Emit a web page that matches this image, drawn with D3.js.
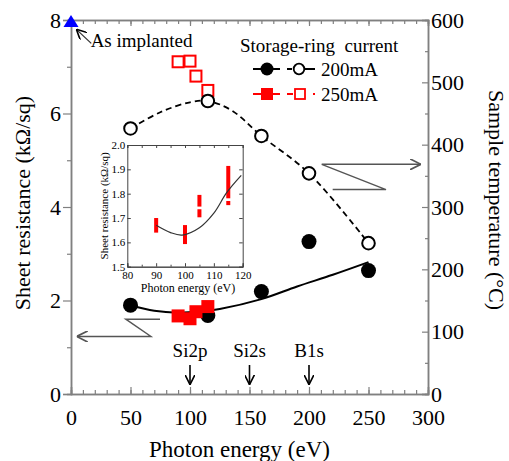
<!DOCTYPE html>
<html>
<head>
<meta charset="utf-8">
<script src="https://cdn.jsdelivr.net/npm/d3@7"></script>
<style>
  body { margin: 0; background: #fff; }
  svg text { font-family: "Times New Roman", Times, "Liberation Serif", "Noto Serif", "DejaVu Serif", serif !important; }
</style>
</head>
<body>
<svg id="chart"></svg>
<script>
// ---- data ----
const energy200 = [50, 115, 160, 200, 250];
const sheetRes200 = [1.90, 1.68, 2.19, 3.26, 2.64];
const temp200 = [426, 470, 414, 354, 242];

const energy250 = [90, 100, 105, 115];
const sheetRes250 = [1.67, 1.61, 1.76, 1.87];
const temp250 = [533, 534, 510, 487];

// hand-drawn guide curves through the points
const resFitX = [50, 70, 90, 110, 125, 160, 190, 220, 250];
const resFitY = [1.90, 1.78, 1.74, 1.77, 1.82, 2.03, 2.30, 2.55, 2.82];
const tempFitX = [50, 75, 100, 115, 135, 160, 200, 250];
const tempFitY = [426, 452, 468, 470, 455, 414, 354, 242];

// inset: red bars (error ranges) and fit
const insetBarX = [90, 100, 105, 105, 115, 115];
const insetBarLo = [1.640, 1.593, 1.703, 1.747, 1.753, 1.781];
const insetBarHi = [1.700, 1.671, 1.736, 1.795, 1.770, 1.914];
const insetFitX = [90, 95, 99, 105, 110, 114.5, 119.5];
const insetFitY = [1.670, 1.640, 1.630, 1.660, 1.720, 1.805, 1.875];

const xTicks = [0, 50, 100, 150, 200, 250, 300];
const leftTicks = [0, 2, 4, 6, 8];
const rightTicks = [0, 100, 200, 300, 400, 500, 600];
const insetXTicks = [80, 90, 100, 110, 120];
const insetYTicks = [1.5, 1.6, 1.7, 1.8, 1.9, 2.0];

const edgeNames = ["Si2p", "Si2s", "B1s"];
const edgeEnergy = [100, 150, 200];

const asImplanted = {x: 0, y: 8};

// ---- layout ----
const WIDTH = 509, HEIGHT = 461;
const PLOT = {left: 71, right: 428, top: 20, bottom: 394};
const INSET = {left: 127.3, right: 242.7, top: 145, bottom: 266.7};
const AXIS_GREY = "#808080";
const SERIF = "'Times New Roman', Times, 'Liberation Serif', 'Noto Serif', 'DejaVu Serif', serif";

const svg = d3.select("#chart").attr("width", WIDTH).attr("height", HEIGHT)
	.attr("font-family", SERIF);
svg.append("rect").attr("width", WIDTH).attr("height", HEIGHT).attr("fill", "#fff");

const x = d3.scaleLinear().domain([0, 300]).range([PLOT.left, PLOT.right]);
const yL = d3.scaleLinear().domain([0, 8]).range([PLOT.bottom, PLOT.top]);
const yR = d3.scaleLinear().domain([0, 600]).range([PLOT.bottom, PLOT.top]);

// arrow heads
const defs = svg.append("defs");
function arrowMarker(id, color, size) {
	defs.append("marker")
		.attr("id", id)
		.attr("viewBox", "0 0 10 10")
		.attr("refX", 10).attr("refY", 5)
		.attr("markerWidth", size).attr("markerHeight", size)
		.attr("markerUnits", "userSpaceOnUse")
		.attr("orient", "auto")
		.append("path")
		.attr("d", "M0,0 L10,5 L0,10")
		.attr("fill", "none")
		.attr("stroke", color)
		.attr("stroke-width", 1.6);
}
arrowMarker("arrGrey", "#555", 11);
arrowMarker("arrBlack", "#000", 10);

// ---- axes ----
function styleAxis(g) {
	g.attr("font-family", SERIF);
	g.select(".domain").attr("stroke", AXIS_GREY).attr("stroke-width", 1.5);
	g.selectAll(".tick line").attr("stroke", AXIS_GREY).attr("stroke-width", 1.2);
	g.selectAll(".tick text").attr("font-size", 22).attr("fill", "#000");
}
const minorX = d3.range(0, 301, 10);

// bottom
svg.append("g").attr("transform", `translate(0,${PLOT.bottom})`)
	.call(d3.axisBottom(x).tickValues(minorX).tickSize(-4).tickFormat(""))
	.call(styleAxis);
svg.append("g").attr("transform", `translate(0,${PLOT.bottom})`)
	.call(d3.axisBottom(x).tickValues(xTicks).tickSize(-7).tickPadding(15))
	.call(styleAxis);
// top
svg.append("g").attr("transform", `translate(0,${PLOT.top})`)
	.call(d3.axisTop(x).tickValues(minorX).tickSize(-4).tickFormat(""))
	.call(styleAxis);
svg.append("g").attr("transform", `translate(0,${PLOT.top})`)
	.call(d3.axisTop(x).tickValues(xTicks).tickSize(-6).tickFormat(""))
	.call(styleAxis);
// left
svg.append("g").attr("transform", `translate(${PLOT.left},0)`)
	.call(d3.axisLeft(yL).tickValues([1, 3, 5, 7]).tickSize(4).tickFormat(""))
	.call(styleAxis);
svg.append("g").attr("transform", `translate(${PLOT.left},0)`)
	.call(d3.axisLeft(yL).tickValues(leftTicks).tickSize(8).tickPadding(2))
	.call(styleAxis);
// right
svg.append("g").attr("transform", `translate(${PLOT.right},0)`)
	.call(d3.axisRight(yR).tickValues(d3.range(50, 600, 100)).tickSize(-3).tickFormat(""))
	.call(styleAxis);
svg.append("g").attr("transform", `translate(${PLOT.right},0)`)
	.call(d3.axisRight(yR).tickValues(rightTicks).tickSize(-6).tickPadding(3))
	.call(styleAxis);

// axis titles
svg.append("text")
	.attr("x", (PLOT.left + PLOT.right) / 2 - 10).attr("y", 457)
	.attr("text-anchor", "middle").attr("font-size", 23)
	.text("Photon energy (eV)");
svg.append("text")
	.attr("transform", `translate(30,${(PLOT.top + PLOT.bottom) / 2 - 4}) rotate(-90)`)
	.attr("text-anchor", "middle").attr("font-size", 22)
	.text("Sheet resistance (k\u03A9/sq)");
svg.append("text")
	.attr("transform", `translate(489,${(PLOT.top + PLOT.bottom) / 2 - 7}) rotate(90)`)
	.attr("text-anchor", "middle").attr("font-size", 22)
	.text("Sample temperature (\u00B0C)");

// ---- guide curves ----
const resLine = d3.line().curve(d3.curveCatmullRom.alpha(0.5))
	.x((d, i) => x(resFitX[i])).y(d => yL(d));
svg.append("path").datum(resFitY)
	.attr("d", resLine).attr("fill", "none")
	.attr("stroke", "#000").attr("stroke-width", 2);

const tempLine = d3.line().curve(d3.curveCatmullRom.alpha(0.5))
	.x((d, i) => x(tempFitX[i])).y(d => yR(d));
svg.append("path").datum(tempFitY)
	.attr("d", tempLine).attr("fill", "none")
	.attr("stroke", "#000").attr("stroke-width", 1.8)
	.attr("stroke-dasharray", "6,4");

// ---- points ----
svg.selectAll(".res200").data(sheetRes200).enter().append("circle")
	.attr("cx", (d, i) => x(energy200[i])).attr("cy", d => yL(d))
	.attr("r", 7.5).attr("fill", "#000");

svg.selectAll(".res250").data(sheetRes250).enter().append("rect")
	.attr("x", (d, i) => x(energy250[i]) - 6.5).attr("y", d => yL(d) - 6.5)
	.attr("width", 13).attr("height", 13).attr("fill", "#ff0000");

svg.selectAll(".temp250").data(temp250).enter().append("rect")
	.attr("x", (d, i) => x(energy250[i]) - 5.5).attr("y", d => yR(d) - 5.5)
	.attr("width", 11).attr("height", 11)
	.attr("fill", "#fff").attr("stroke", "#ff0000").attr("stroke-width", 2);

svg.selectAll(".temp200").data(temp200).enter().append("circle")
	.attr("cx", (d, i) => x(energy200[i])).attr("cy", d => yR(d))
	.attr("r", 6.3).attr("fill", "#fff")
	.attr("stroke", "#000").attr("stroke-width", 2);

// as implanted
const ax = x(asImplanted.x), ay = yL(asImplanted.y);
svg.append("path")
	.attr("d", `M${ax - 7.5},${ay + 7} L${ax + 7.5},${ay + 7} L${ax},${ay - 5} Z`)
	.attr("fill", "#0000ff");
svg.append("line")
	.attr("x1", x(17)).attr("y1", yL(7.5))
	.attr("x2", x(4.5)).attr("y2", yL(7.8))
	.attr("stroke", "#333").attr("stroke-width", 1.3)
	.attr("marker-end", "url(#arrBlack)");
svg.append("text").attr("x", x(16.5)).attr("y", 47)
	.attr("font-size", 19).text("As implanted");

// ---- zig-zag arrows pointing to the axes ----
const leftZig = [[74.8, 1.6], [46, 1.6], [67.2, 1.23], [4.8, 1.23]];
svg.append("path")
	.attr("d", d3.line().x(d => x(d[0])).y(d => yL(d[1]))(leftZig))
	.attr("fill", "none").attr("stroke", "#555").attr("stroke-width", 1.4)
	.attr("marker-end", "url(#arrGrey)");

const rightZig = [[219.9, 328], [264.7, 328], [210.7, 368.5], [294, 368.5]];
svg.append("path")
	.attr("d", d3.line().x(d => x(d[0])).y(d => yR(d[1]))(rightZig))
	.attr("fill", "none").attr("stroke", "#555").attr("stroke-width", 1.4)
	.attr("marker-end", "url(#arrGrey)");

// ---- absorption edges ----
edgeNames.forEach((name, i) => {
	svg.append("text")
		.attr("x", x(edgeEnergy[i])).attr("y", 357)
		.attr("text-anchor", "middle").attr("font-size", 19)
		.text(name);
	svg.append("line")
		.attr("x1", x(edgeEnergy[i])).attr("y1", yL(0.62))
		.attr("x2", x(edgeEnergy[i])).attr("y2", yL(0.2))
		.attr("stroke", "#000").attr("stroke-width", 1.6)
		.attr("marker-end", "url(#arrBlack)");
});

// ---- legend ----
const legend = svg.append("g");
legend.append("text").attr("x", 240).attr("y", 52)
	.attr("font-size", 19).attr("xml:space", "preserve")
	.text("Storage-ring  current");
// 200 mA
legend.append("line").attr("x1", 253).attr("x2", 280).attr("y1", 69).attr("y2", 69)
	.attr("stroke", "#000").attr("stroke-width", 2);
legend.append("circle").attr("cx", 267).attr("cy", 69).attr("r", 6.5).attr("fill", "#000");
legend.append("line").attr("x1", 287).attr("x2", 316).attr("y1", 69).attr("y2", 69)
	.attr("stroke", "#000").attr("stroke-width", 1.8).attr("stroke-dasharray", "5,13,10");
legend.append("circle").attr("cx", 299).attr("cy", 69).attr("r", 5.3)
	.attr("fill", "#fff").attr("stroke", "#000").attr("stroke-width", 1.8);
legend.append("text").attr("x", 321).attr("y", 76).attr("font-size", 19).text("200mA");
// 250 mA
legend.append("line").attr("x1", 253).attr("x2", 280).attr("y1", 94).attr("y2", 94)
	.attr("stroke", "#ff0000").attr("stroke-width", 2);
legend.append("rect").attr("x", 261).attr("y", 88).attr("width", 12).attr("height", 12)
	.attr("fill", "#ff0000");
legend.append("line").attr("x1", 287).attr("x2", 315).attr("y1", 94).attr("y2", 94)
	.attr("stroke", "#ff0000").attr("stroke-width", 1.8).attr("stroke-dasharray", "6,20,2");
legend.append("rect").attr("x", 295).attr("y", 89).attr("width", 10).attr("height", 10)
	.attr("fill", "#fff").attr("stroke", "#ff0000").attr("stroke-width", 1.8);
legend.append("text").attr("x", 321).attr("y", 101).attr("font-size", 19).text("250mA");

// ---- inset ----
const ix = d3.scaleLinear().domain([80, 120]).range([INSET.left, INSET.right]);
const iy = d3.scaleLinear().domain([1.5, 2.0]).range([INSET.bottom, INSET.top]);
const inset = svg.append("g");
inset.append("rect")
	.attr("x", INSET.left).attr("y", INSET.top)
	.attr("width", INSET.right - INSET.left).attr("height", INSET.bottom - INSET.top)
	.attr("fill", "#fff");

function styleInset(g) {
	g.attr("font-family", SERIF);
	g.select(".domain").attr("stroke", "#444").attr("stroke-width", 1);
	g.selectAll(".tick line").attr("stroke", "#444").attr("stroke-width", 1);
	g.selectAll(".tick text").attr("font-size", 11).attr("fill", "#000");
}
inset.append("g").attr("transform", `translate(0,${INSET.bottom})`)
	.call(d3.axisBottom(ix).tickValues(d3.range(85, 120, 10)).tickSize(-2).tickFormat(""))
	.call(styleInset);
inset.append("g").attr("transform", `translate(0,${INSET.bottom})`)
	.call(d3.axisBottom(ix).tickValues(insetXTicks).tickSize(-3.5).tickPadding(5))
	.call(styleInset);
inset.append("g").attr("transform", `translate(0,${INSET.top})`)
	.call(d3.axisTop(ix).tickValues(d3.range(80, 121, 5)).tickSize(-3).tickFormat(""))
	.call(styleInset);
inset.append("g").attr("transform", `translate(${INSET.left},0)`)
	.call(d3.axisLeft(iy).tickValues(insetYTicks).tickSize(-3.5).tickPadding(2).tickFormat(d3.format(".1f")))
	.call(styleInset);
inset.append("g").attr("transform", `translate(${INSET.right},0)`)
	.call(d3.axisRight(iy).tickValues(insetYTicks).tickSize(-3.5).tickFormat(""))
	.call(styleInset);

inset.selectAll(".bar").data(insetBarLo).enter().append("rect")
	.attr("x", (d, i) => ix(insetBarX[i]) - 2)
	.attr("y", (d, i) => iy(insetBarHi[i]))
	.attr("width", 4)
	.attr("height", (d, i) => iy(d) - iy(insetBarHi[i]))
	.attr("fill", "#ff0000");

const insetLine = d3.line().curve(d3.curveCatmullRom.alpha(0.5))
	.x((d, i) => ix(insetFitX[i])).y(d => iy(d));
inset.append("path").datum(insetFitY)
	.attr("d", insetLine).attr("fill", "none")
	.attr("stroke", "#333").attr("stroke-width", 1.2);

inset.append("text")
	.attr("x", (INSET.left + INSET.right) / 2 + 3).attr("y", 292)
	.attr("text-anchor", "middle").attr("font-size", 12)
	.text("Photon energy (eV)");
inset.append("text")
	.attr("transform", `translate(108,${(INSET.top + INSET.bottom) / 2}) rotate(-90)`)
	.attr("text-anchor", "middle").attr("font-size", 11)
	.text("Sheet resistance (k\u03A9/sq)");
</script>
</body>
</html>
